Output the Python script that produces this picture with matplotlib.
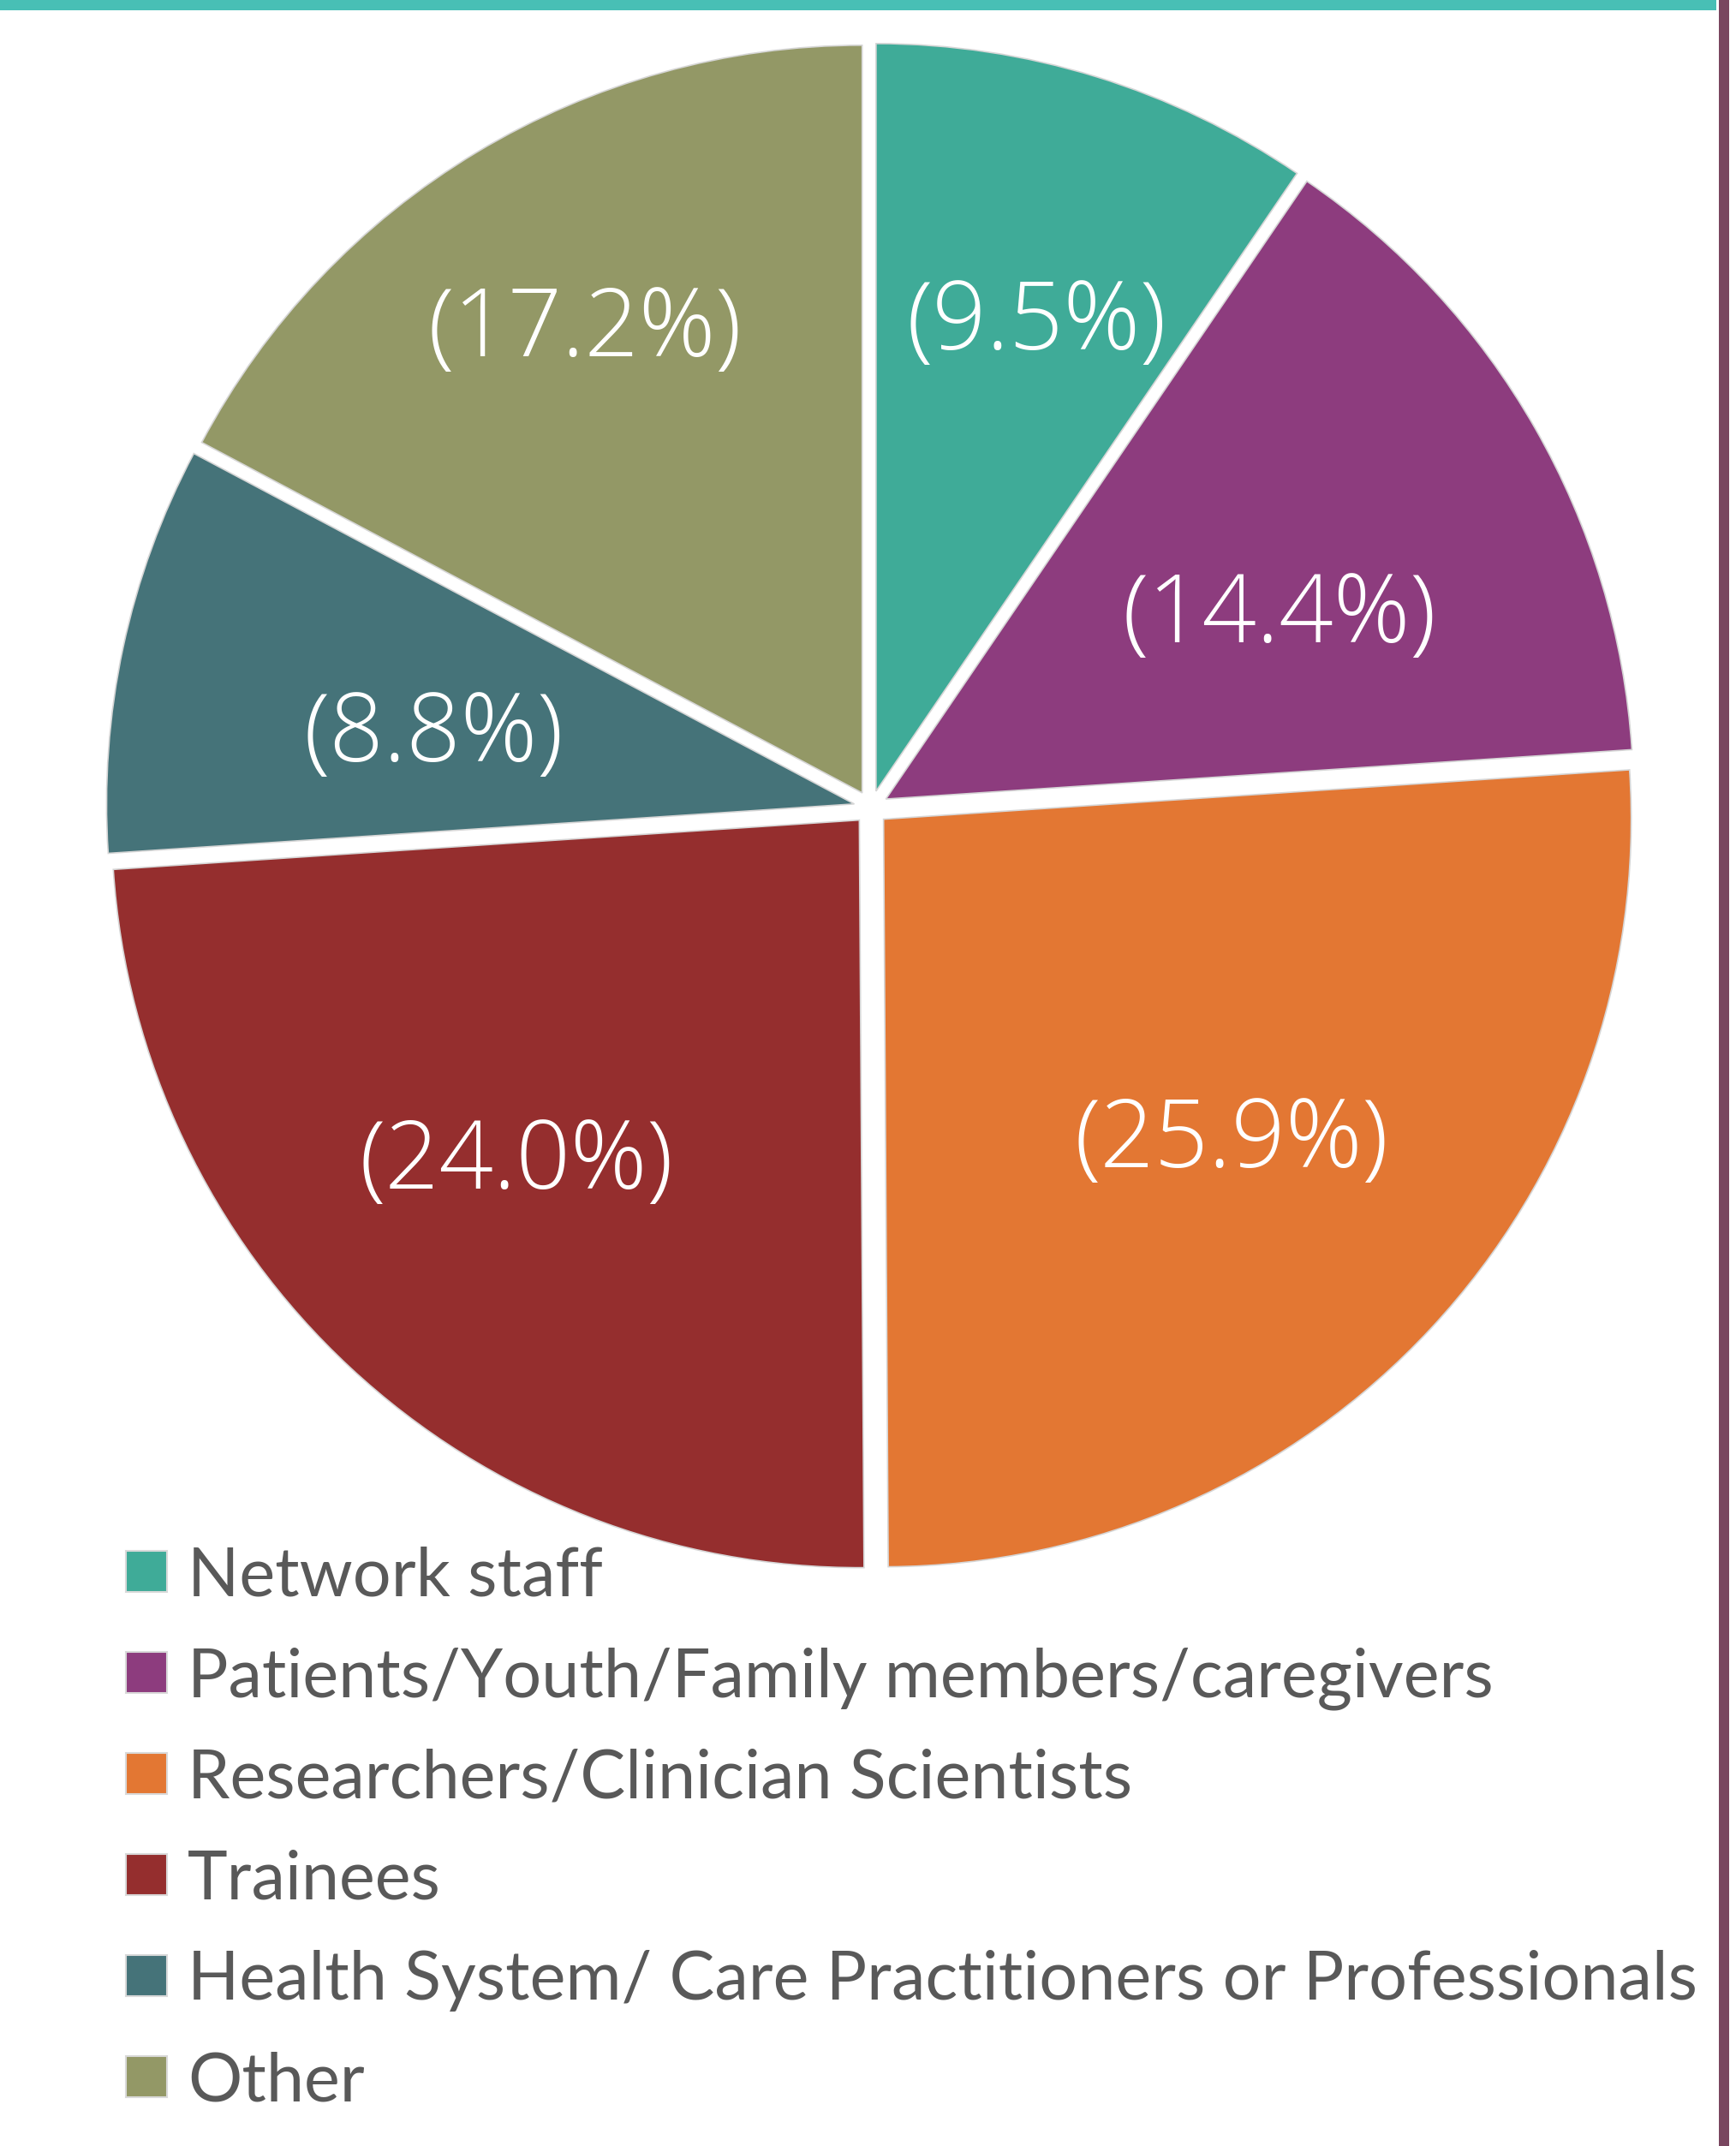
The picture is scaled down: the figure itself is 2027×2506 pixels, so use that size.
import matplotlib
matplotlib.use('Agg')
import matplotlib.pyplot as plt
from matplotlib.patches import Rectangle
import numpy as np

# Share of respondents by group (percent)
groups = ['Network staff',
          'Patients/Youth/Family members/caregivers',
          'Researchers/Clinician Scientists',
          'Trainees',
          'Health System/ Care Practitioners or Professionals',
          'Other']
shares = [9.5, 14.4, 25.9, 24.0, 8.8, 17.2]
colors = ['#3FAB98', '#8D3C7E', '#E37733', '#952E2E', '#457379', '#939866']

# label placement: distance from wedge centre (fraction of radius) and an
# angle nudge in degrees, picked to match the original
label_dist = [0.66, 0.58, 0.635, 0.65, 0.57, 0.72]
label_nudge = [-1.8, -5.0, 0.0, -2.0, 3.0, 0.0]

W, H = 2027, 2506
fig = plt.figure(figsize=(W / 100, H / 100), dpi=100)
ax = fig.add_axes([0, 0, 1, 1])

R = 873
cx, cy = 1017, H - 943
# explode is in data units here (pie does not scale it by radius)
wedges, _ = ax.pie(shares, colors=colors, startangle=90, counterclock=False,
                   radius=R, center=(cx, cy), explode=[20] * len(shares),
                   normalize=True,
                   wedgeprops=dict(edgecolor='#d6d6d6', linewidth=1.2))

for w, share, d, nd in zip(wedges, shares, label_dist, label_nudge):
    ang = np.deg2rad((w.theta1 + w.theta2) / 2 + nd)
    x = w.center[0] + d * R * np.cos(ang)
    y = w.center[1] + d * R * np.sin(ang)
    ax.text(x, y, f'({share:.1f}%)', ha='center', va='center', color='white',
            fontsize=80, family='Open Sans', fontweight='light')

ax.set_xlim(0, W)
ax.set_ylim(0, H)
ax.set_aspect('equal')
ax.axis('off')

# page decorations: teal top rule and purple side rule
ax.add_patch(Rectangle((0, H - 12), 2004, 12, color='#48BFB5', lw=0))
ax.add_patch(Rectangle((2007, 0), 12, H, color='#79465F', lw=0))

# legend, drawn by hand to match the original's row spacing
row0, pitch = 1835, 118
for i, (g, c) in enumerate(zip(groups, colors)):
    yc = H - (row0 + i * pitch)
    ax.add_patch(Rectangle((147, yc - 24), 48, 48, facecolor=c,
                           edgecolor='#d9d9d9', lw=1.5))
    ax.text(219, yc - 28, g, ha='left', va='baseline', color='#595959',
            fontsize=57, family='Lato')

fig.savefig('out.png', dpi=100, facecolor='white')
